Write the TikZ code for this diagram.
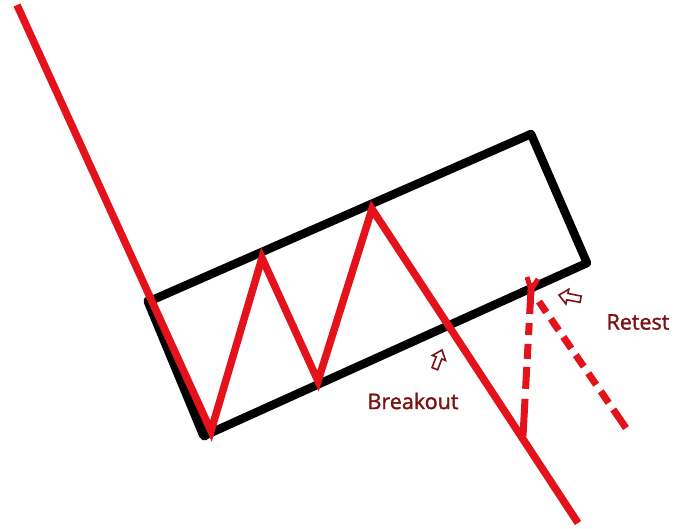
\documentclass[tikz,border=0pt]{standalone}
\usepackage{fontspec}
\setmainfont{Open Sans}
\newfontfamily\lblfont[FakeBold=1.6]{Open Sans}
\definecolor{chartred}{HTML}{E3121B}
\definecolor{labelred}{HTML}{7A1414}
\tikzset{
  boxline/.style={draw=black, line width=8.5pt, line join=round, line cap=round},
  priceline/.style={draw=chartred, line width=7.5pt, line join=miter},
  dashline/.style={draw=chartred, line width=7pt, dash pattern=on 15pt off 9pt},
  hollowarrow/.style={draw=labelred, line width=1.6pt, fill=white, line join=miter},
  lbl/.style={text=labelred, font=\lblfont\fontsize{21.5}{21.5}\selectfont, inner sep=0pt}
}
\begin{document}
\begin{tikzpicture}[x=1pt,y=-1pt]
\useasboundingbox (0,0) rectangle (677,529);
% box corners
\coordinate (tl) at (150,301);
\coordinate (tr) at (531,134);
\coordinate (br) at (587,263);
\coordinate (bl) at (206,435);
% price path points
\coordinate (p0) at (17,5);
\coordinate (v1) at (211,431);
\coordinate (h1) at (262,258);
\coordinate (v2) at (318,381);
\coordinate (h2) at (372,209);
\coordinate (pe) at (578,523);
% retest points
\coordinate (junc) at (523,436);
\coordinate (tip) at (531,290);
\coordinate (rend) at (626,428);
% channel box
\draw[boxline] (tl) -- (tr) -- (br) -- (bl) -- cycle;
\draw[boxline, line width=11pt] ([xshift=-1pt]tl) -- ([xshift=-1.5pt]bl);
% price line
\draw[priceline] (p0) -- (v1) -- (h1) -- (v2) -- (h2) -- (pe);
% retest dashed lines
\draw[dashline, dash pattern=on 24pt off 9pt on 12pt off 9pt on 15pt off 8pt on 22pt off 10pt on 60pt] (tip) -- (junc);
\draw[dashline, dash pattern=on 0pt off 14pt on 13pt off 8pt on 14pt off 8pt on 14pt off 8pt on 14pt off 8pt on 14pt off 8pt on 14pt off 8pt on 14pt] (tip) -- (rend);
\draw[chartred, line width=5pt] ([xshift=-4pt,yshift=13pt]tip) -- (tip) -- ([xshift=7pt,yshift=11pt]tip);
% hollow arrows
\begin{scope}[shift={(442,350)}, rotate=69]
\draw[hollowarrow] (0,0) -- (-8.5,7) -- (-8.5,3) -- (-20,3) -- (-20,-3) -- (-8.5,-3) -- (-8.5,-7) -- cycle;
\end{scope}
\begin{scope}[shift={(559,295)}, rotate=169]
\draw[hollowarrow] (0,0) -- (-8.5,7.5) -- (-8.5,3.2) -- (-22,3.2) -- (-22,-3.2) -- (-8.5,-3.2) -- (-8.5,-7.5) -- cycle;
\end{scope}
% labels
\node[lbl] (breakout) at (413,401) {Breakout};
\node[lbl] (retest) at (638,322) {Retest};
\end{tikzpicture}
\end{document}
